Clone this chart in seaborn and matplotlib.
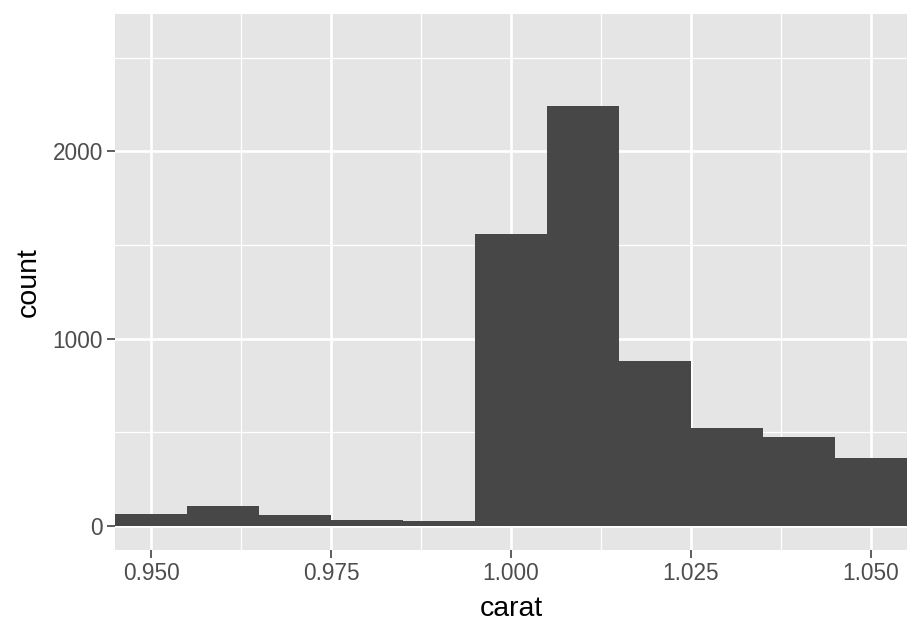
import numpy as np
import seaborn as sns
import matplotlib.pyplot as plt
from matplotlib.ticker import FixedLocator

# bin centres (binwidth 0.01) and the counts
bin_centers = [0.95, 0.96, 0.97, 0.98, 0.99, 1.00, 1.01, 1.02, 1.03, 1.04, 1.05]
counts = [64, 107, 59, 32, 27, 1561, 2240, 882, 524, 476, 364]

x_ticks = [0.950, 0.975, 1.000, 1.025, 1.050]
x_tick_labels = ["0.950", "0.975", "1.000", "1.025", "1.050"]
x_minor = [0.9625, 0.9875, 1.0125, 1.0375]
y_ticks = [0, 1000, 2000]
y_tick_labels = ["0", "1000", "2000"]
y_minor = [500, 1500, 2500]

# the y range comes from the tallest bin of the full data (outside the view)
full_max_count = 2604

sns.set_style("darkgrid", {"axes.facecolor": "#E5E5E5", "grid.color": "white"})
plt.rcParams['font.family'] = ['Liberation Sans', 'DejaVu Sans']

fig = plt.figure(figsize=(9.22, 6.34), dpi=100)
ax = fig.add_axes([115 / 922, 1 - 550 / 634, (907 - 115) / 922, (550 - 14) / 634])

sns.histplot(x=bin_centers, weights=counts, bins=11, binrange=(0.945, 1.055),
             color="#474747", alpha=1, edgecolor=None, linewidth=0, ax=ax)

ax.set_xlim(0.945, 1.055)
ax.set_ylim(-0.05 * full_max_count, 1.05 * full_max_count)

ax.xaxis.set_major_locator(FixedLocator(x_ticks))
ax.xaxis.set_minor_locator(FixedLocator(x_minor))
ax.yaxis.set_major_locator(FixedLocator(y_ticks))
ax.yaxis.set_minor_locator(FixedLocator(y_minor))
ax.set_xticklabels(x_tick_labels)
ax.set_yticklabels(y_tick_labels)

ax.grid(which="major", color="white", linewidth=1.9)
ax.grid(which="minor", color="white", linewidth=0.9)
ax.set_axisbelow(True)

for s in ax.spines.values():
    s.set_visible(False)

ax.tick_params(which="major", length=5.5, width=1.1, color="#333333",
               labelcolor="#4D4D4D", labelsize=16.3, pad=3,
               bottom=True, left=True)
ax.tick_params(which="minor", length=0)

ax.set_xlabel("carat", fontsize=20.5, color="black", labelpad=8)
ax.set_ylabel("count", fontsize=20.5, color="black", labelpad=8)

fig.savefig("out.png", dpi=100)
